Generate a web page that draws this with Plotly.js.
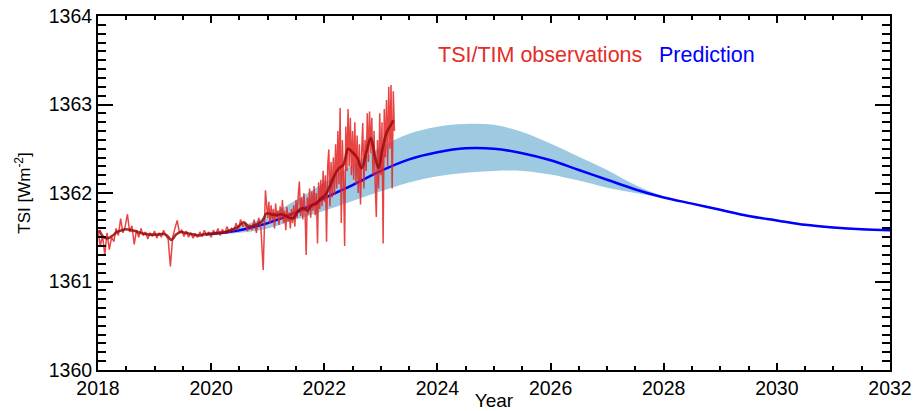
<!DOCTYPE html>
<html>
<head>
<meta charset="utf-8">
<script src="https://cdn.plot.ly/plotly-3.0.1.min.js"></script>
<style>
  html, body { margin: 0; padding: 0; background: #ffffff; }
  #chart { width: 916px; height: 411px; }
</style>
</head>
<body>
<div id="chart"></div>
<script>
// ---- Observations (TSI/TIM) ----
const obsEarlyStart = 2018.0;
const obsEarlyStep = 0.04;
const obs2018 = [1361.58,1361.40,1361.52,1361.30,1361.55,1361.36,1361.50,1361.45,1361.60,1361.52,1361.71,1361.55,1361.62,1361.76,1361.56,1361.63,1361.42,1361.58,1361.50,1361.60,1361.52,1361.56,1361.48,1361.55,1361.51];
const obs2019 = [1361.57,1361.49,1361.55,1361.50,1361.58,1361.52,1361.48,1361.17,1361.50,1361.60,1361.69,1361.55,1361.58,1361.51,1361.57,1361.50,1361.55,1361.49,1361.54,1361.50,1361.56,1361.51,1361.58,1361.52,1361.56];
const obs2020 = [1361.50,1361.58,1361.53,1361.60,1361.52,1361.59,1361.54,1361.62,1361.55,1361.60,1361.57,1361.66,1361.58,1361.70,1361.62,1361.66,1361.57,1361.64,1361.58,1361.70,1361.55,1361.72,1361.60,1361.13,1362.03];
const obsLateStart = 2021.0;
const obsLateStep = 0.02;
const obs2021 = [1361.72,1361.90,1361.65,1361.86,1361.70,1361.82,1361.60,1361.88,1361.72,1361.80,
                 1361.64,1361.85,1361.70,1361.92,1361.66,1361.80,1361.58,1361.84,1361.68,1361.78,
                 1361.60,1361.82,1361.66,1361.86,1361.62,1361.92,1361.72,1361.98,1362.13,1361.74,
                 1361.95,1361.70,1362.00,1361.78,1361.30,1361.95,1361.76,1362.05,1361.72,1362.02,
                 1361.80,1362.08,1361.75,1362.00,1361.43,1362.12,1361.82,1362.15,1361.85,1362.25];
const obs2022 = [1361.90,1362.20,1361.45,1362.30,1362.49,1361.85,1362.35,1361.95,1362.40,1361.98,
                 1362.55,1362.05,1362.70,1362.10,1362.96,1361.66,1362.60,1362.15,1361.40,1362.75,
                 1362.25,1362.95,1362.30,1362.85,1362.20,1362.70,1362.15,1362.80,1362.10,1362.65,
                 1362.00,1362.55,1361.87,1362.45,1362.79,1362.05,1362.60,1362.25,1362.90,1362.35,
                 1362.92,1362.45,1362.85,1362.20,1362.70,1362.10,1361.73,1362.60,1362.05,1362.90];
const obs2023 = [1362.20,1362.80,1361.43,1362.95,1362.40,1363.05,1362.30,1363.20,1362.50,1363.22,1362.05,1363.15,1362.70];

// ---- Smoothed observations ----
const smoothYear = [2018.02,2018.10,2018.18,2018.26,2018.34,2018.42,2018.50,2018.58,2018.66,2018.74,2018.82,2018.90,2018.98,2019.06,2019.14,2019.22,2019.30,2019.38,2019.46,2019.54,2019.62,2019.70,2019.78,2019.86,2019.94,2020.02,2020.10,2020.18,2020.26,2020.34,2020.42,2020.50,2020.58,2020.66,2020.74,2020.82,2020.90,2020.98,2021.06,2021.14,2021.22,2021.30,2021.38,2021.46,2021.54,2021.62,2021.70,2021.78,2021.86,2021.94,2022.02,2022.10,2022.18,2022.26,2022.34,2022.42,2022.50,2022.58,2022.66,2022.74,2022.82,2022.90,2022.96,2023.02,2023.10,2023.16,2023.22];
const smoothTSI = [1361.58,1361.50,1361.49,1361.52,1361.56,1361.58,1361.59,1361.58,1361.57,1361.55,1361.54,1361.53,1361.53,1361.53,1361.54,1361.52,1361.47,1361.53,1361.56,1361.55,1361.54,1361.53,1361.52,1361.53,1361.54,1361.54,1361.55,1361.55,1361.56,1361.58,1361.60,1361.63,1361.67,1361.62,1361.63,1361.65,1361.68,1361.77,1361.76,1361.75,1361.76,1361.75,1361.72,1361.72,1361.80,1361.83,1361.80,1361.86,1361.88,1361.94,1361.98,1362.08,1362.20,1362.28,1362.32,1362.50,1362.46,1362.40,1362.28,1362.45,1362.62,1362.40,1362.28,1362.47,1362.68,1362.75,1362.82];

// ---- Prediction ----
const predYear = [2019.9,2020.5,2021.0,2021.5,2022.0,2022.5,2023.0,2023.5,2024.0,2024.5,2025.0,2025.5,2026.0,2026.5,2027.0,2027.5,2028.0,2028.5,2029.0,2029.5,2030.0,2030.5,2031.0,2031.5,2032.0];
const predTSI = [1361.53,1361.58,1361.66,1361.78,1361.94,1362.09,1362.25,1362.38,1362.46,1362.505,1362.50,1362.45,1362.37,1362.26,1362.15,1362.04,1361.95,1361.88,1361.81,1361.74,1361.69,1361.64,1361.61,1361.59,1361.58];

// ---- Prediction uncertainty band ----
const bandYear = [2020.0,2020.5,2021.0,2021.5,2022.0,2022.5,2023.0,2023.5,2024.0,2024.5,2025.0,2025.5,2026.0,2026.5,2027.0,2027.5,2028.0,2028.5,2029.0,2029.5,2030.0,2030.5,2031.0,2031.5,2032.0];
const bandUpper = [1361.54,1361.62,1361.74,1361.92,1362.12,1362.32,1362.52,1362.67,1362.75,1362.78,1362.77,1362.69,1362.56,1362.41,1362.26,1362.09,1361.96,1361.89,1361.82,1361.75,1361.70,1361.65,1361.62,1361.60,1361.59];
const bandLower = [1361.53,1361.55,1361.60,1361.70,1361.80,1361.91,1362.02,1362.12,1362.19,1362.23,1362.25,1362.25,1362.21,1362.14,1362.06,1362.00,1361.94,1361.87,1361.80,1361.73,1361.68,1361.63,1361.60,1361.58,1361.57];

// ---- Axes / labels ----
const xRange = [2018, 2032];
const yRange = [1360, 1364];
const xMajorStep = 2, xMinorStep = 0.5;
const yMajorStep = 1, yMinorStep = 0.1;
const obsLabel = 'TSI/TIM observations';
const predLabel = 'Prediction';
const xTitle = 'Year';
const yTitle = 'TSI [Wm<sup>-2</sup>]';

const obsEarly = [].concat(obs2018, obs2019, obs2020);
const obsLate = [].concat(obs2021, obs2022, obs2023);
const obsTSI = obsEarly.concat(obsLate);
const obsYear = obsEarly.map((_, i) => obsEarlyStart + obsEarlyStep * i)
  .concat(obsLate.map((_, i) => obsLateStart + obsLateStep * i));

const FONT = 'Liberation Sans, Arial, Helvetica, sans-serif';

const traces = [
  { x: bandYear, y: bandLower, type: 'scatter', mode: 'lines',
    line: { width: 0, color: 'rgba(0,0,0,0)', shape: 'spline' }, hoverinfo: 'skip', showlegend: false },
  { x: bandYear, y: bandUpper, type: 'scatter', mode: 'lines', fill: 'tonexty',
    fillcolor: 'rgb(158,202,225)', line: { width: 0, color: 'rgba(0,0,0,0)', shape: 'spline' },
    hoverinfo: 'skip', showlegend: false },
  { x: predYear, y: predTSI, type: 'scatter', mode: 'lines', name: predLabel, xaxis: 'x2', yaxis: 'y2',
    line: { color: 'rgb(0,0,255)', width: 2.5, shape: 'spline' }, showlegend: false },
  { x: obsYear, y: obsTSI, type: 'scatter', mode: 'lines', name: obsLabel, xaxis: 'x3', yaxis: 'y3',
    line: { color: 'rgba(228,35,35,0.85)', width: 1.5 }, showlegend: false },
  { x: smoothYear, y: smoothTSI, type: 'scatter', mode: 'lines', xaxis: 'x4', yaxis: 'y4',
    line: { color: 'rgba(150,12,12,0.85)', width: 2.6, shape: 'spline' }, showlegend: false }
];

// overlay axis on the top / right side whose ticks are mirrored to the bottom / left too
function overlayAxis(range, step, len, width, side, overlay, anchor, line, showTicks) {
  return {
    overlaying: overlay, anchor: anchor, side: side,
    range: range, tickmode: 'linear', tick0: range[0], dtick: step,
    ticks: showTicks ? 'inside' : '', ticklen: len, tickwidth: width, tickcolor: 'black',
    showline: line, linewidth: 2, linecolor: 'black', mirror: 'ticks',
    showgrid: false, zeroline: false, showticklabels: false
  };
}

const layout = {
  width: 916, height: 411,
  margin: { l: 98, r: 26, t: 16, b: 41 },
  paper_bgcolor: '#ffffff', plot_bgcolor: 'rgba(0,0,0,0)',
  font: { family: FONT, color: '#000000', size: 19 },
  showlegend: false,
  xaxis: {
    range: xRange, tickmode: 'linear', tick0: xRange[0], dtick: xMajorStep,
    ticks: 'inside', ticklen: 7, tickwidth: 2, tickcolor: 'black',
    showline: true, linewidth: 2, linecolor: 'black', mirror: false,
    showgrid: false, zeroline: false,
    tickfont: { family: FONT, size: 19.5, color: '#000' },
    title: { text: xTitle, font: { family: FONT, size: 19, color: '#000' }, standoff: 5 }
  },
  yaxis: {
    range: yRange, tickmode: 'linear', tick0: yRange[0], dtick: yMajorStep,
    ticks: 'inside', ticklen: 15, tickwidth: 2, tickcolor: 'black',
    showline: true, linewidth: 2, linecolor: 'black', mirror: false,
    showgrid: false, zeroline: false,
    tickfont: { family: FONT, size: 19.5, color: '#000' },
    title: { text: yTitle, font: { family: FONT, size: 17, color: '#000' }, standoff: 14 }
  },
  // major ticks + frame lines on top / right
  xaxis2: overlayAxis(xRange, xMajorStep, 7, 2, 'top', 'x', 'y2', true, true),
  yaxis2: overlayAxis(yRange, yMajorStep, 15, 2, 'right', 'y', 'x2', true, true),
  // minor ticks on all four sides
  xaxis3: overlayAxis(xRange, xMinorStep, 4, 1.5, 'top', 'x', 'y3', false, true),
  yaxis3: overlayAxis(yRange, yMinorStep, 8, 1.5, 'right', 'y', 'x3', false, true),
  xaxis4: overlayAxis(xRange, xMajorStep, 7, 2, 'top', 'x', 'y4', false, false),
  yaxis4: overlayAxis(yRange, yMajorStep, 15, 2, 'right', 'y', 'x4', false, false),
  annotations: [
    { xref: 'paper', yref: 'paper', x: 0.427, y: 0.89, xanchor: 'left', yanchor: 'middle',
      text: obsLabel, showarrow: false, font: { family: FONT, size: 21.5, color: 'rgb(228,45,40)' } },
    { xref: 'paper', yref: 'paper', x: 0.706, y: 0.89, xanchor: 'left', yanchor: 'middle',
      text: predLabel, showarrow: false, font: { family: FONT, size: 21.5, color: 'rgb(0,0,255)' } }
  ]
};

Plotly.newPlot('chart', traces, layout, { displayModeBar: false });
</script>
</body>
</html>
